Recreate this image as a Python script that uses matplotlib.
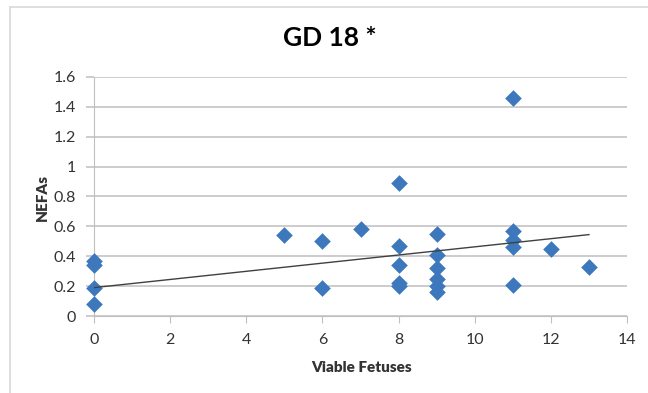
import numpy as np
import matplotlib.pyplot as plt
from matplotlib.lines import Line2D

plt.rcParams['font.family'] = ['Lato', 'DejaVu Sans']

# 값은 그림에서 읽은 것
fetuses = [0, 0, 0, 0, 5, 6, 6, 7, 8, 8, 8, 8, 8,
           9, 9, 9, 9, 9, 9, 11, 11, 11, 11, 11, 12, 13]
nefas = [0.37, 0.34, 0.19, 0.08, 0.54, 0.50, 0.19, 0.58, 0.89, 0.47, 0.34, 0.22, 0.20,
         0.55, 0.41, 0.32, 0.25, 0.20, 0.16, 1.46, 0.57, 0.51, 0.46, 0.21, 0.45, 0.33]
# 추세선 (그림에서 읽음: 0에서 0.19, 기울기)
trend_a = 0.19
trend_b = 0.0273
xticks = [0, 2, 4, 6, 8, 10, 12, 14]
yticks = [0, 0.2, 0.4, 0.6, 0.8, 1, 1.2, 1.4, 1.6]
ylabels = ['0', '0.2', '0.4', '0.6', '0.8', '1', '1.2', '1.4', '1.6']

fig = plt.figure(figsize=(6.48, 3.93), dpi=100)
ax = fig.add_axes([94/648, 1-316/393, (627-94)/648, (316-77)/393])

# 차트 테두리
fig.add_artist(Line2D([10/648, 10/648], [0, 1-7/393], color='#d9d9d9', lw=1.2))
fig.add_artist(Line2D([10/648, 1], [1-7/393, 1-7/393], color='#d9d9d9', lw=1.2))

ax.scatter(fetuses, nefas, marker='D', s=72, color='#3d78bd', zorder=3,
           linewidths=0, clip_on=False)

xs = np.array([0, max(fetuses)])
ax.plot(xs, trend_a + trend_b*xs, color='#404040', lw=1, zorder=4)

ax.set_xlim(0, 14)
ax.set_ylim(0, 1.6)
ax.set_xticks(xticks)
ax.set_yticks(yticks)
ax.set_yticklabels(ylabels)
ax.grid(axis='y', color='#c8c8c8', lw=1.3)
ax.set_axisbelow(True)
for s in ['top', 'right']:
    ax.spines[s].set_visible(False)
ax.spines['left'].set_color('#c0c0c0')
ax.spines['bottom'].set_color('#c0c0c0')
ax.tick_params(axis='x', colors='#c0c0c0', labelcolor='#333333', length=5, labelsize=11.5, pad=7)
ax.tick_params(axis='y', colors='#c8c8c8', labelcolor='#333333', length=6, width=1.3, labelsize=11.5, pad=7)

fig.text(362/648, 1-368/393, 'Viable Fetuses', fontsize=11, fontweight='heavy',
         color='#333333', ha='center', va='center')
fig.text(42/648, 1-198/393, 'NEFAs', fontsize=11, fontweight='heavy', rotation=90,
         color='#333333', ha='center', va='center')
fig.text(330/648, 1-38/393, 'GD 18 *', fontsize=19, fontweight='bold',
         color='black', ha='center', va='center')

fig.savefig('out.png', dpi=100)
